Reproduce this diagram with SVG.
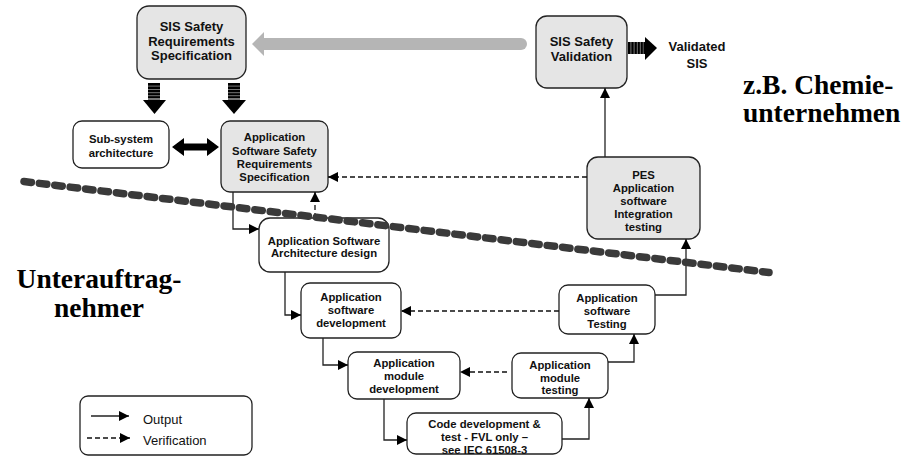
<svg xmlns="http://www.w3.org/2000/svg" width="906" height="456" viewBox="0 0 906 456">
<defs>
<style>
.box{stroke:#222;stroke-width:1.3}
.g{fill:#e5e5e5}
.w{fill:#fff}
.t{font-family:"Liberation Sans",Arial,sans-serif;font-weight:bold;font-size:11.3px;fill:#111;text-anchor:middle}
.tb{font-family:"Liberation Sans",Arial,sans-serif;font-weight:bold;font-size:13px;fill:#111;text-anchor:middle}
.big{font-family:"Liberation Serif","Times New Roman",serif;font-weight:bold;font-size:27.5px;fill:#000}
.leg{font-family:"Liberation Sans",Arial,sans-serif;font-size:13px;fill:#111}
.c{fill:none;stroke:#222;stroke-width:1.3}
.d{fill:none;stroke:#111;stroke-width:1.3;stroke-dasharray:5 3}
</style>
<marker id="ah" viewBox="0 0 10 10" refX="10" refY="5" markerWidth="10" markerHeight="10" markerUnits="userSpaceOnUse" orient="auto">
<path d="M0,0 L10,5 L0,10 z" fill="#000"/>
</marker>
<g id="stripeV">
<rect x="0" y="0" width="12" height="17" fill="#777"/>
<rect x="0" y="0" width="12" height="2.6" fill="#000"/>
<rect x="0" y="3.6" width="12" height="2.4" fill="#000"/>
<rect x="0" y="7" width="12" height="2.2" fill="#000"/>
<rect x="0" y="10.2" width="12" height="2" fill="#000"/>
<rect x="0" y="13.2" width="12" height="1.8" fill="#000"/>
</g>
</defs>
<rect width="906" height="456" fill="#fff"/>

<g id="sis-srs">
<rect class="box g" x="137" y="6" width="109" height="73" rx="12"/>
<text class="tb" x="191.5" y="31">SIS Safety</text>
<text class="tb" x="191.5" y="45.5">Requirements</text>
<text class="tb" x="191.5" y="60">Specification</text>
</g>

<g id="subsystem">
<rect class="box w" x="73" y="121" width="96" height="47" rx="9"/>
<text class="t" x="121" y="143">Sub-system</text>
<text class="t" x="121" y="157">architecture</text>
</g>

<g id="assrs">
<rect class="box g" x="221" y="121" width="107" height="71" rx="9"/>
<text class="t" x="274.5" y="141">Application</text>
<text class="t" x="274.5" y="155">Software Safety</text>
<text class="t" x="274.5" y="168">Requirements</text>
<text class="t" x="274.5" y="181">Specification</text>
</g>

<g id="sis-validation">
<rect class="box g" x="536" y="16" width="91" height="72" rx="11"/>
<text class="tb" x="581.5" y="46">SIS Safety</text>
<text class="tb" x="581.5" y="61">Validation</text>
</g>

<g id="validated-sis">
<text class="tb" x="697" y="51">Validated</text>
<text class="tb" x="697" y="68">SIS</text>
</g>

<g id="pes">
<rect class="box g" x="587" y="157" width="113" height="82" rx="11"/>
<text class="t" x="643.5" y="179">PES</text>
<text class="t" x="643.5" y="192">Application</text>
<text class="t" x="643.5" y="205">software</text>
<text class="t" x="643.5" y="218">Integration</text>
<text class="t" x="643.5" y="231">testing</text>
</g>

<g id="arch-design">
<rect class="box w" x="259" y="218" width="130" height="54" rx="11"/>
<text class="t" x="324" y="245">Application Software</text>
<text class="t" x="324" y="257">Architecture design</text>
</g>

<g id="sw-dev">
<rect class="box w" x="301" y="283" width="100" height="55" rx="9"/>
<text class="t" x="351" y="301">Application</text>
<text class="t" x="351" y="314">software</text>
<text class="t" x="351" y="327">development</text>
</g>

<g id="sw-test">
<rect class="box w" x="559" y="285" width="96" height="49" rx="9"/>
<text class="t" x="607" y="302">Application</text>
<text class="t" x="607" y="315">software</text>
<text class="t" x="607" y="328">Testing</text>
</g>

<g id="mod-dev">
<rect class="box w" x="348" y="352" width="112" height="47" rx="9"/>
<text class="t" x="404" y="367">Application</text>
<text class="t" x="404" y="380">module</text>
<text class="t" x="404" y="393">development</text>
</g>

<g id="mod-test">
<rect class="box w" x="512" y="353" width="96" height="45" rx="9"/>
<text class="t" x="560" y="369">Application</text>
<text class="t" x="560" y="382">module</text>
<text class="t" x="560" y="394">testing</text>
</g>

<g id="code-dev">
<rect class="box w" x="407" y="413" width="155" height="41" rx="9"/>
<text class="t" x="484.5" y="428">Code development &amp;</text>
<text class="t" x="484.5" y="441">test - FVL only –</text>
<text class="t" x="484.5" y="454">see IEC 61508-3</text>
</g>

<g id="labels">
<text class="big" x="743" y="94">z.B. Chemie-</text>
<text class="big" x="743" y="122">unternehmen</text>
<text class="big" x="99" y="288" text-anchor="middle">Unterauftrag-</text>
<text class="big" x="99" y="317" text-anchor="middle">nehmer</text>
</g>

<g id="legend">
<rect class="box w" x="80" y="396" width="172" height="59" rx="8"/>
<line class="c" x1="91" y1="416" x2="129" y2="416" marker-end="url(#ah)"/>
<line class="d" x1="87" y1="438" x2="130" y2="438" marker-end="url(#ah)"/>
<text class="leg" x="143" y="424">Output</text>
<text class="leg" x="143" y="445">Verification</text>
</g>

<g id="connectors">
<line x1="262" y1="44" x2="521" y2="44" stroke="#b5b5b5" stroke-width="12" stroke-linecap="round"/>
<path d="M264,32 L252,44 L264,56 z" fill="#b5b5b5"/>
<use href="#stripeV" x="148" y="83"/>
<path d="M143,100 L166,100 L154.5,114 z" fill="#000"/>
<use href="#stripeV" x="228" y="83"/>
<path d="M222,100 L246,100 L234,114 z" fill="#000"/>
<path d="M172,147 L184,138 L184,143.5 L207,143.5 L207,138 L219,147 L207,156 L207,150.5 L184,150.5 L184,156 z" fill="#000"/>
<g>
<rect x="628" y="42" width="17" height="12" fill="#777"/>
<rect x="628" y="42" width="2.4" height="12" fill="#000"/>
<rect x="631.4" y="42" width="2.2" height="12" fill="#000"/>
<rect x="634.6" y="42" width="2.2" height="12" fill="#000"/>
<rect x="637.8" y="42" width="2" height="12" fill="#000"/>
<rect x="640.8" y="42" width="2" height="12" fill="#000"/>
<rect x="643.6" y="42" width="1.6" height="12" fill="#000"/>
<path d="M645,37 L657,48 L645,60 z" fill="#000"/>
</g>
<path class="c" d="M233,192 V229 H259" marker-end="url(#ah)"/>
<path class="c" d="M285,272 V315 H301" marker-end="url(#ah)"/>
<path class="c" d="M323,338 V365 H348" marker-end="url(#ah)"/>
<path class="c" d="M384,399 V440 H407" marker-end="url(#ah)"/>
<path class="c" d="M562,439 H589 V398" marker-end="url(#ah)"/>
<path class="c" d="M608,362 H634 V334" marker-end="url(#ah)"/>
<path class="c" d="M655,295 H686 V239" marker-end="url(#ah)"/>
<path class="c" d="M605,157 V88" marker-end="url(#ah)"/>
<path class="d" d="M315,218 V192" marker-end="url(#ah)"/>
<path class="d" d="M559,311 H401" marker-end="url(#ah)"/>
<path class="d" d="M507,372 H460" marker-end="url(#ah)"/>
<path class="d" d="M587,177 H328" marker-end="url(#ah)"/>
</g>

<g id="divider">
<line x1="24" y1="181.5" x2="769" y2="272.5" stroke="#3a3a3a" stroke-width="7.5" stroke-linecap="round" stroke-dasharray="7.5 8"/>
</g>
</svg>
